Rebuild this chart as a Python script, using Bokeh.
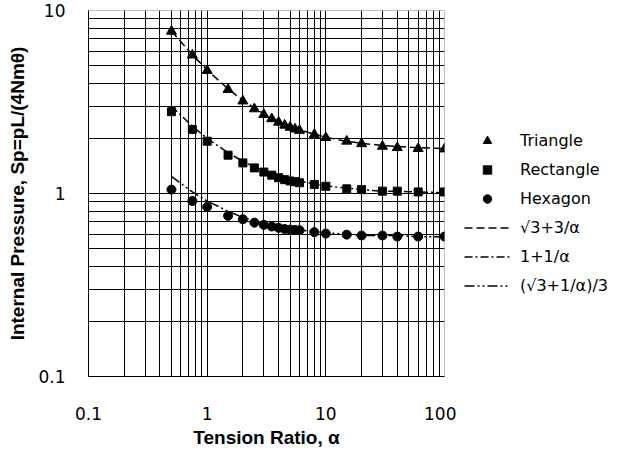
from bokeh.plotting import figure
from bokeh.layouts import row
from bokeh.models import FixedTicker, CustomJSTickFormatter, Legend, LegendItem, ColumnDataSource, Spacer
from bokeh.embed import file_html
from bokeh.resources import INLINE

# ---- data ----
alpha = [0.5, 0.75, 1, 1.5, 2, 2.5, 3, 3.5, 4, 4.5, 5, 5.5, 6, 8, 10, 15, 20, 30, 40, 60, 100]

triangle = [7.70, 5.70, 4.70, 3.70, 3.20, 2.90, 2.70, 2.56, 2.45, 2.36, 2.30, 2.25, 2.21,
            2.10, 2.02, 1.93, 1.87, 1.81, 1.78, 1.76, 1.75]
rectangle = [2.80, 2.24, 1.93, 1.62, 1.47, 1.38, 1.31, 1.26, 1.22, 1.19, 1.17, 1.16, 1.145,
             1.12, 1.095, 1.06, 1.05, 1.03, 1.03, 1.02, 1.02]
hexagon = [1.05, 0.91, 0.845, 0.755, 0.723, 0.693, 0.674, 0.66, 0.649, 0.64, 0.635, 0.632, 0.63,
           0.615, 0.604, 0.596, 0.589, 0.589, 0.582, 0.582, 0.582]

# theory curves
curve_tri = [7.73, 5.73, 4.73, 3.73, 3.23, 2.93, 2.73, 2.59, 2.48, 2.40, 2.33, 2.28, 2.23,
             2.11, 2.03, 1.93, 1.88, 1.83, 1.81, 1.78, 1.76]
curve_rect = [3.00, 2.33, 2.00, 1.67, 1.50, 1.40, 1.33, 1.29, 1.25, 1.22, 1.20, 1.18, 1.17,
              1.13, 1.10, 1.07, 1.05, 1.03, 1.03, 1.02, 1.01]
curve_hex = [1.24, 1.02, 0.91, 0.80, 0.74, 0.71, 0.69, 0.67, 0.66, 0.65, 0.64, 0.64, 0.63,
             0.62, 0.61, 0.60, 0.59, 0.59, 0.59, 0.58, 0.58]

x_major = [0.1, 1, 10, 100]
x_minor = [0.2, 0.3, 0.4, 0.5, 0.6, 0.7, 0.8, 0.9, 2, 3, 4, 5, 6, 7, 8, 9,
           20, 30, 40, 50, 60, 70, 80, 90]
y_major = [0.1, 1, 10]
y_minor = [0.2, 0.3, 0.4, 0.5, 0.6, 0.7, 0.8, 0.9, 2, 3, 4, 5, 6, 7, 8, 9]

labels_series = ["Triangle", "Rectangle", "Hexagon"]
labels_curves = ["\u221a3+3/\u03b1", "1+1/\u03b1", "(\u221a3+1/\u03b1)/3"]
x_title = "Tension Ratio, \u03b1"
y_title = "Internal Pressure, Sp=pL/(4Nm\u03b8)"

DASH_TRI = "8 4"
DASH_RECT = "8 3 2 3"
DASH_HEX = "10 3 2 3 2 3"

src = ColumnDataSource(dict(x=alpha, tri=triangle, rect=rectangle, hexa=hexagon,
                            ct=curve_tri, cr=curve_rect, ch=curve_hex))

p = figure(frame_width=356, frame_height=366, x_axis_type="log", y_axis_type="log",
           x_range=(0.1, 100), y_range=(0.1, 10),
           output_backend="svg", toolbar_location=None,
           min_border_left=70, min_border_top=10, min_border_bottom=68, min_border_right=12,
           background_fill_color="white", border_fill_color="white")

p.outline_line_color = "#c0c0c0"
p.outline_line_width = 1

for ax, maj, mino in ((p.xaxis[0], x_major, x_minor), (p.yaxis[0], y_major, y_minor)):
    ax.ticker = FixedTicker(ticks=maj, minor_ticks=mino)
    ax.formatter = CustomJSTickFormatter(code="return tick.toString();")
    ax.major_tick_line_color = None
    ax.minor_tick_line_color = None
    ax.axis_line_color = "black"
    ax.major_label_text_font = "DejaVu Sans"
    ax.major_label_text_font_size = "17px"
    ax.major_label_text_color = "black"
    ax.axis_label_text_font = "Liberation Sans"
    ax.axis_label_text_font_style = "bold"
    ax.axis_label_text_font_size = "19px"
    ax.axis_label_text_color = "black"

p.xaxis.axis_label = x_title
p.yaxis.axis_label = y_title
p.xaxis.major_label_standoff = 24
p.xaxis.axis_label_standoff = 4
p.yaxis.major_label_standoff = 17
p.yaxis.axis_label_standoff = 7

for g in (p.xgrid[0], p.ygrid[0]):
    g.grid_line_color = "black"
    g.grid_line_width = 1
    g.minor_grid_line_color = "black"
    g.minor_grid_line_width = 1

p.line("x", "ct", source=src, line_color="black", line_width=1.5, line_dash=DASH_TRI)
p.line("x", "cr", source=src, line_color="black", line_width=1.5, line_dash=DASH_RECT)
p.line("x", "ch", source=src, line_color="black", line_width=1.5, line_dash=DASH_HEX)

p.scatter("x", "tri", source=src, marker="triangle", size=10, color="black")
p.scatter("x", "rect", source=src, marker="square", size=8, color="black")
p.scatter("x", "hexa", source=src, marker="circle", size=9, color="black")

# ---- legend panel (a second, axis-less figure beside the plot) ----
lf = figure(width=158, height=443, x_range=(0, 1), y_range=(0, 1),
            output_backend="svg", toolbar_location=None,
            x_axis_location=None, y_axis_location=None,
            min_border=0, outline_line_color=None,
            background_fill_color="white", border_fill_color="white")
lf.grid.visible = False

# legend sample renderers: their single point lies outside the visible range
off_x = [5, 6]
off_y = [5, 5]
gt = lf.scatter(x=off_x[:1], y=off_y[:1], marker="triangle", size=8, color="black")
gr = lf.scatter(x=off_x[:1], y=off_y[:1], marker="square", size=7, color="black")
gh = lf.scatter(x=off_x[:1], y=off_y[:1], marker="circle", size=8, color="black")
g1 = lf.line(x=off_x, y=off_y, line_color="black", line_width=1.5, line_dash=DASH_TRI)
g2 = lf.line(x=off_x, y=off_y, line_color="black", line_width=1.5, line_dash=DASH_RECT)
g3 = lf.line(x=off_x, y=off_y, line_color="black", line_width=1.5, line_dash=DASH_HEX)

items = [LegendItem(label=labels_series[0], renderers=[gt]),
         LegendItem(label=labels_series[1], renderers=[gr]),
         LegendItem(label=labels_series[2], renderers=[gh]),
         LegendItem(label=labels_curves[0], renderers=[g1]),
         LegendItem(label=labels_curves[1], renderers=[g2]),
         LegendItem(label=labels_curves[2], renderers=[g3])]

legend = Legend(items=items, location=(8, 73), margin=0, padding=0,
                glyph_width=46, glyph_height=21, label_height=21, spacing=8,
                label_standoff=10, border_line_alpha=0, background_fill_alpha=0,
                label_text_font="DejaVu Sans", label_text_font_size="16px",
                label_text_color="black")
lf.add_layout(legend, "center")

layout = row(Spacer(width=4, height=443), p, lf)
open("out.html", "w").write(file_html(layout, INLINE))
